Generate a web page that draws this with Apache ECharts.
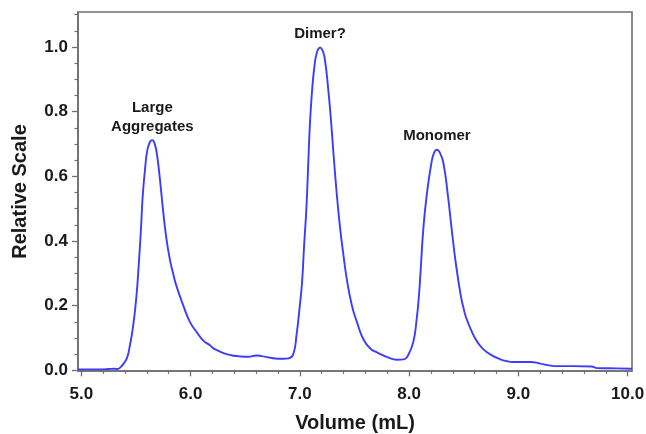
<!DOCTYPE html>
<html>
<head>
<meta charset="utf-8">
<script src="https://cdn.jsdelivr.net/npm/echarts@6/dist/echarts.min.js"></script>
<style>
  html, body { margin: 0; padding: 0; background: #ffffff; }
  #chart { width: 646px; height: 434px; }
</style>
</head>
<body>
<div id="chart"></div>
<script>
// Elution trace: volume (mL) against normalised detector response
const volume = [
  4.97, 5.00, 5.10, 5.20, 5.25, 5.30, 5.33, 5.36, 5.39, 5.42,
  5.445, 5.475, 5.505, 5.527, 5.546, 5.562, 5.583, 5.604, 5.628, 5.65,
  5.674, 5.695, 5.72, 5.75, 5.78, 5.81, 5.84, 5.87, 5.934, 5.995,
  6.057, 6.117, 6.18, 6.21, 6.27, 6.33, 6.40, 6.454, 6.53, 6.60,
  6.65, 6.73, 6.80, 6.85, 6.897, 6.94, 6.97, 7.00, 7.02, 7.04,
  7.06, 7.075, 7.09, 7.108, 7.133, 7.158, 7.185, 7.213, 7.234, 7.255,
  7.28, 7.31, 7.34, 7.37, 7.40, 7.43, 7.477, 7.523, 7.585, 7.647,
  7.71, 7.80, 7.89, 7.95, 7.996, 8.04, 8.07, 8.09, 8.106, 8.13,
  8.16, 8.204, 8.23, 8.255, 8.28, 8.314, 8.356, 8.39, 8.427, 8.473,
  8.50, 8.52, 8.58, 8.63, 8.68, 8.75, 8.83, 8.90, 8.95, 9.11,
  9.20, 9.27, 9.33, 9.50, 9.67, 9.72, 9.90, 10.04
];
const relativeScale = [
  0.003, 0.003, 0.003, 0.003, 0.004, 0.005, 0.004, 0.010, 0.022, 0.040,
  0.077, 0.138, 0.230, 0.333, 0.436, 0.538, 0.620, 0.680, 0.706, 0.712,
  0.698, 0.662, 0.590, 0.490, 0.405, 0.344, 0.300, 0.262, 0.200, 0.149,
  0.118, 0.092, 0.077, 0.068, 0.058, 0.050, 0.045, 0.043, 0.042, 0.046,
  0.044, 0.039, 0.036, 0.036, 0.037, 0.050, 0.110, 0.200, 0.270, 0.390,
  0.500, 0.620, 0.744, 0.846, 0.938, 0.985, 0.998, 0.985, 0.949, 0.887,
  0.795, 0.662, 0.538, 0.436, 0.354, 0.282, 0.200, 0.149, 0.094, 0.067,
  0.055, 0.041, 0.033, 0.034, 0.050, 0.090, 0.160, 0.230, 0.310, 0.436,
  0.538, 0.641, 0.674, 0.682, 0.674, 0.641, 0.538, 0.436, 0.333, 0.231,
  0.190, 0.165, 0.115, 0.085, 0.065, 0.048, 0.035, 0.028, 0.026, 0.026,
  0.021, 0.016, 0.013, 0.013, 0.012, 0.007, 0.006, 0.005
];

// Axis tick labels
const xTicks = [5.0, 6.0, 7.0, 8.0, 9.0, 10.0];
const yTicks = [0.0, 0.2, 0.4, 0.6, 0.8, 1.0];

// Peak annotations
const peakNames = ['Large\nAggregates', 'Dimer?', 'Monomer'];
const peakVolume = [5.65, 7.185, 8.255];
const peakHeight = [0.712, 0.998, 0.682];

// Minor tick positions between the labelled ones
function steps(from, to, step) {
  const out = [];
  const n = Math.round((to - from) / step);
  for (let i = 0; i <= n; i++) out.push(+(from + i * step).toFixed(3));
  return out;
}
const xMinor = steps(5.0, 10.0, 0.2).filter(v => !xTicks.some(t => Math.abs(t - v) < 1e-6));
const yMinor = steps(0.0, 1.10, 0.05).filter(v => !yTicks.some(t => Math.abs(t - v) < 1e-6));

const X_MIN = 4.97, X_MAX = 10.04;
const Y_MIN = -0.002, Y_MAX = 1.108;
const FONT = '"Liberation Sans", Arial, sans-serif';
const AXIS_GREY = '#6f6f6f';

const labelStyle = {
  fontFamily: FONT, fontWeight: 'bold', fontSize: 17, color: '#1a1a1a'
};

const chart = echarts.init(document.getElementById('chart'), null, { renderer: 'canvas' });

chart.setOption({
  animation: false,
  backgroundColor: '#ffffff',
  grid: {
    left: 78, right: 14, top: 12, bottom: 63,
    containLabel: false, outerBoundsMode: 'none',
    show: true, borderColor: AXIS_GREY, borderWidth: 1.6, backgroundColor: 'transparent'
  },
  xAxis: [
    {
      type: 'value', min: X_MIN, max: X_MAX, position: 'bottom',
      name: 'Volume (mL)', nameLocation: 'middle', nameGap: 42,
      nameTextStyle: { fontFamily: FONT, fontWeight: 'bold', fontSize: 20, color: '#1a1a1a' },
      axisLine: { show: true, lineStyle: { color: AXIS_GREY, width: 1.6 } },
      axisTick: { show: true, customValues: xTicks, length: 6, inside: false,
                  lineStyle: { color: AXIS_GREY, width: 1.3 } },
      axisLabel: Object.assign({ show: true, customValues: xTicks, margin: 15,
                  formatter: v => v.toFixed(1) }, labelStyle),
      splitLine: { show: false }
    },
    {
      type: 'value', min: X_MIN, max: X_MAX, position: 'bottom',
      axisLine: { show: false },
      axisTick: { show: true, customValues: xMinor, length: 3.5, inside: false,
                  lineStyle: { color: AXIS_GREY, width: 1.2 } },
      axisLabel: { show: false },
      splitLine: { show: false }
    }
  ],
  yAxis: [
    {
      type: 'value', min: Y_MIN, max: Y_MAX, position: 'left',
      name: 'Relative Scale', nameLocation: 'middle', nameGap: 48, nameRotate: 90,
      nameTextStyle: { fontFamily: FONT, fontWeight: 'bold', fontSize: 20, color: '#1a1a1a' },
      axisLine: { show: true, lineStyle: { color: AXIS_GREY, width: 1.6 } },
      axisTick: { show: true, customValues: yTicks, length: 6, inside: false,
                  lineStyle: { color: AXIS_GREY, width: 1.3 } },
      axisLabel: Object.assign({ show: true, customValues: yTicks, margin: 10,
                  formatter: v => v.toFixed(1) }, labelStyle),
      splitLine: { show: false }
    },
    {
      type: 'value', min: Y_MIN, max: Y_MAX, position: 'left',
      axisLine: { show: false },
      axisTick: { show: true, customValues: yMinor, length: 3.5, inside: false,
                  lineStyle: { color: AXIS_GREY, width: 1.2 } },
      axisLabel: { show: false },
      splitLine: { show: false }
    }
  ],
  series: [
    {
      type: 'line',
      xAxisIndex: 0, yAxisIndex: 0,
      data: volume.map((v, i) => [v, relativeScale[i]]),
      showSymbol: false,
      smooth: 0.5,
      lineStyle: { color: '#3c3cff', width: 1.9 },
      markPoint: {
        symbol: 'circle', symbolSize: 0,
        silent: true,
        label: {
          show: true, position: 'top', distance: 4,
          fontFamily: FONT, fontWeight: 'bold', fontSize: 15, lineHeight: 19,
          color: '#1a1a1a', align: 'center'
        },
        data: peakNames.map((name, i) => ({
          name: name,
          coord: [peakVolume[i], peakHeight[i]],
          label: { formatter: name }
        }))
      }
    }
  ]
});
</script>
</body>
</html>
